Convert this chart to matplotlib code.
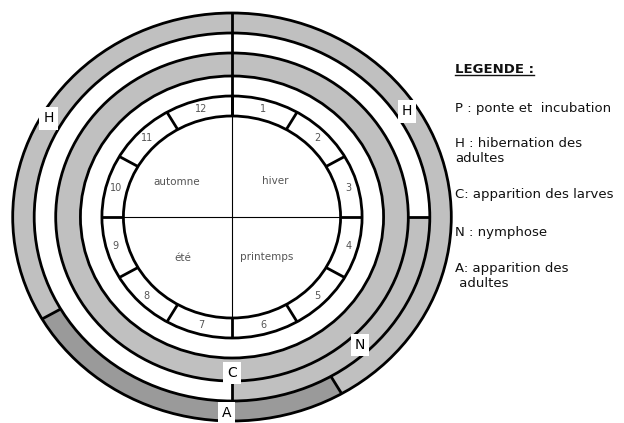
import numpy as np
import matplotlib.pyplot as plt
from matplotlib.patches import Wedge, Circle
from matplotlib.lines import Line2D

# months on the clock face, 1 just right of the top, going clockwise
months = [1, 2, 3, 4, 5, 6, 7, 8, 9, 10, 11, 12]
seasons = ['hiver', 'printemps', 'été', 'automne']

# life stages drawn on the rings: ring index (0 = outermost), start/end month, colour
stage_ring = [0, 0, 1, 2]
stage_start = [8, 5, 3, 0]
stage_end = [17, 8, 6, 12]
stage_color = ['#c0c0c0', '#9a9a9a', '#c0c0c0', '#c0c0c0']

# letters placed on the rings: text, month position, radius
tag_text = ['H', 'H', 'C', 'N', 'A']
tag_month = [10.0, 1.9, 6.0, 4.57, 6.05]
tag_r = [197, 194, 156, 175, 196]

legend_lines = ['P : ponte et  incubation', 'H : hibernation des', 'adultes',
                'C: apparition des larves', 'N : nymphose', 'A: apparition des', ' adultes']
legend_base = [112, 147, 162, 198, 236, 272, 287]

# layout
ring_r = [(184, 204), (164, 184), (141, 164), (121, 141), (101, 121)]
edges = [101, 121, 141, 164, 184, 204]
sx = 1.075          # the disc is a little wider than tall
cx, cy = 232, 217   # centre in pixels
W, H = 624, 423
lw = 2.0

season_month = [1.6, 4.7, 7.6, 10.15]
season_r = [54, 52, 61, 62]


def pt(month, r):
    a = np.radians(90 - 30 * month)
    return r * np.cos(a), r * np.sin(a)


fig = plt.figure(figsize=(W / 100, H / 100), dpi=100)
ax = fig.add_axes([0, 0, 1, 1])
ax.set_xlim(-cx / sx, (W - cx) / sx)
ax.set_ylim(cy - H, cy)
ax.axis('off')

# filled stage bands
for ring, m0, m1, col in zip(stage_ring, stage_start, stage_end, stage_color):
    r0, r1 = ring_r[ring]
    ax.add_patch(Wedge((0, 0), r1, 90 - 30 * m1, 90 - 30 * m0, width=r1 - r0,
                       facecolor=col, edgecolor='none', zorder=1))

# ring outlines
for r in edges:
    ax.add_patch(Circle((0, 0), r, fill=False, edgecolor='black', lw=lw, zorder=3))

# month cells
for m in range(12):
    (x0, y0), (x1, y1) = pt(m, 101), pt(m, 121)
    ax.plot([x0, x1], [y0, y1], color='black', lw=lw, zorder=3, solid_capstyle='butt')
for m in months:
    x, y = pt(m - 0.5, 112)
    ax.text(x, y, str(m), ha='center', va='center', fontsize=7, color='#555555', zorder=4)

# radial separators in the stage rings
seps = [(0, 101, 204), (5, 184, 204), (8, 184, 204), (3, 164, 184), (6, 164, 184)]
for m, r0, r1 in seps:
    (x0, y0), (x1, y1) = pt(m, r0), pt(m, r1)
    ax.plot([x0, x1], [y0, y1], color='black', lw=lw, zorder=3, solid_capstyle='butt')

# thin cross in the centre
ax.plot([-101, 101], [0, 0], color='black', lw=0.8, zorder=2)
ax.plot([0, 0], [-101, 101], color='black', lw=0.8, zorder=2)

for name, m, r in zip(seasons, season_month, season_r):
    x, y = pt(m, r)
    ax.text(x, y, name, ha='center', va='center', fontsize=7.5, color='#555555', zorder=4)

for t, m, r in zip(tag_text, tag_month, tag_r):
    x, y = pt(m, r)
    ax.text(x, y, t, ha='center', va='center', fontsize=10, color='black', zorder=5,
            bbox=dict(boxstyle='square,pad=0.3', facecolor='white', edgecolor='none'))

# legend on the right
head = fig.text(455 / W, 1 - 73 / H, 'LEGENDE :', fontsize=9.5, fontweight='bold',
                ha='left', va='baseline', color='#111111')
for txt, b in zip(legend_lines, legend_base):
    fig.text(455 / W, 1 - b / H, txt, fontsize=9.5, ha='left', va='baseline', color='#111111')

fig.canvas.draw()
bb = head.get_window_extent()
fig.add_artist(Line2D([bb.x0 / W, bb.x1 / W], [1 - 75.5 / H, 1 - 75.5 / H],
                      transform=fig.transFigure, color='#111111', lw=1.0))

fig.savefig('out.png', dpi=100)
